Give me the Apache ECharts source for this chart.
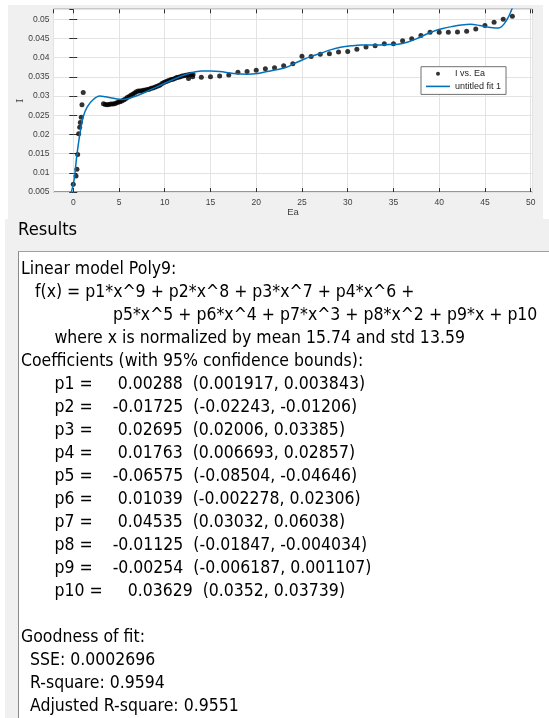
<!DOCTYPE html>
<html>
<head>
<meta charset="utf-8">
<script src="https://cdn.jsdelivr.net/npm/echarts@6/dist/echarts.min.js"></script>
<style>
  html, body { margin: 0; padding: 0; background: #fff; }
  #wrap { position: relative; width: 549px; height: 718px; overflow: hidden; }
  .panel { position: absolute; background: #f0f0f0; }
  #plotPanel { left: 8px; top: 5px; width: 535px; height: 214px; }
  #resultsPanel { left: 5px; top: 219px; width: 544px; height: 499px; }
  #resultsBox { position: absolute; left: 18px; top: 251px; width: 600px; height: 520px;
                background: #fff; border-left: 1px solid #8a8a8a; border-top: 1px solid #a0a0a0; }
  #main { position: absolute; left: 0; top: 0; width: 549px; height: 718px; }
</style>
</head>
<body>
<div id="wrap">
  <div class="panel" id="plotPanel"></div>
  <div class="panel" id="resultsPanel"></div>
  <div id="resultsBox"></div>
  <div id="main"></div>
</div>
<script>
// Measured points: current I against Ea
const eaValues = [
  0.0, 0.30, 0.40, 0.48, 0.59, 0.70, 0.77, 0.87, 0.95, 1.09,
  3.3, 3.5, 3.7, 3.9, 4.1, 4.3, 4.5, 4.7, 4.9, 5.1,
  5.3, 5.5, 5.7, 5.9, 6.1, 6.3, 6.5, 6.7, 6.9, 7.1,
  7.3, 7.5, 7.7, 7.9, 8.1, 8.3, 8.5, 8.7, 8.9, 9.1,
  9.3, 9.5, 9.7, 9.9, 10.1, 10.3, 10.5, 10.7, 10.9, 11.1,
  11.3, 11.5, 11.7, 11.9, 12.1, 12.3, 12.5, 12.7, 12.9,
  12.6, 13.05, 13.1,
  14, 15, 16, 17, 18, 19, 20, 21, 22, 23, 24, 25, 26, 27, 28, 29, 30,
  31, 32, 33, 34, 35, 36, 37, 38, 39, 40, 41, 42, 43, 44, 45, 46, 47, 48
];
const iValues = [
  0.0070, 0.0092, 0.0109, 0.0148, 0.0202, 0.0219, 0.0231, 0.0245, 0.0277, 0.0309,
  0.0280, 0.0278, 0.0277, 0.0278, 0.0279, 0.0279, 0.0280, 0.0282, 0.0284, 0.0285,
  0.0287, 0.0290, 0.0292, 0.0296, 0.0299, 0.0302, 0.0305, 0.0308, 0.0311, 0.0313,
  0.0313, 0.0314, 0.0315, 0.0316, 0.0317, 0.0318, 0.0320, 0.0321, 0.0323, 0.0325,
  0.0327, 0.0329, 0.0333, 0.0335, 0.0337, 0.0339, 0.0341, 0.0343, 0.0344, 0.0346,
  0.0348, 0.0349, 0.0350, 0.0352, 0.0353, 0.0354, 0.0355, 0.0356, 0.0357,
  0.0346, 0.0350, 0.0356,
  0.0349, 0.0350, 0.0352, 0.0355, 0.0362, 0.0364, 0.0367, 0.0371, 0.0374, 0.0379,
  0.0384, 0.0404, 0.0403, 0.0409, 0.0410, 0.0415, 0.0416,
  0.0422, 0.0428, 0.0431, 0.0436, 0.0436, 0.0444, 0.0449, 0.0458, 0.0466, 0.0466,
  0.0466, 0.0467, 0.0469, 0.0475, 0.0484, 0.0492, 0.0500, 0.0508
];

// Samples along the fitted Poly9 curve
const fitEa = [
  -0.35, 0.08, 0.37, 0.73, 1.09, 1.53, 2.19, 2.9, 3.5, 4.4,
  5.3, 6.2, 7.3, 8.4, 9.5, 10.6, 11.7, 12.8, 14.0, 15.0,
  16.0, 17.5, 19.0, 20.2, 21.2, 22.3, 23.3, 24.2, 25.2, 26.2,
  27.2, 28.2, 29.2, 30.4, 31.5, 33.0, 34.5, 35.5, 36.6, 37.5,
  38.4, 39.4, 40.4, 41.4, 42.4, 43.4, 44.4, 45.4, 46.2, 46.7,
  47.1, 47.5, 47.8, 48.05
];
const fitI = [
  0.0037, 0.0080, 0.0141, 0.0202, 0.0246, 0.0272, 0.0291, 0.0300, 0.0298, 0.0294,
  0.0291, 0.0295, 0.0304, 0.0316, 0.0328, 0.0340, 0.0351, 0.0360, 0.0365, 0.0365,
  0.0364, 0.0359, 0.0357, 0.0359, 0.0364, 0.0369, 0.0375, 0.0385, 0.0396, 0.0405,
  0.0413, 0.0421, 0.0427, 0.0431, 0.0433, 0.0433, 0.0434, 0.0435, 0.0441, 0.0449,
  0.0459, 0.0469, 0.0476, 0.0481, 0.0485, 0.0487, 0.0484, 0.0479, 0.0477, 0.0479,
  0.0488, 0.0503, 0.0518, 0.0533
];

const xLimits = [-2.16, 50.2];
const yLimits = [0.005, 0.0526];

// Fit report text
const modelLines = [
  'Linear model Poly9:',
  'f(x) = p1*x^9 + p2*x^8 + p3*x^7 + p4*x^6 +',
  'p5*x^5 + p6*x^4 + p7*x^3 + p8*x^2 + p9*x + p10',
  'where x is normalized by mean 15.74 and std 13.59',
  'Coefficients (with 95% confidence bounds):'
];
const coefNames = ['p1', 'p2', 'p3', 'p4', 'p5', 'p6', 'p7', 'p8', 'p9', 'p10'];
const coefValues = ['0.00288', '-0.01725', '0.02695', '0.01763', '-0.06575',
                    '0.01039', '0.04535', '-0.01125', '-0.00254', '0.03629'];
const coefBounds = ['(0.001917, 0.003843)', '(-0.02243, -0.01206)', '(0.02006, 0.03385)',
                    '(0.006693, 0.02857)', '(-0.08504, -0.04646)', '(-0.002278, 0.02306)',
                    '(0.03032, 0.06038)', '(-0.01847, -0.004034)', '(-0.006187, 0.001107)',
                    '(0.0352, 0.03739)'];
const gofTitle = 'Goodness of fit:';
const gofLines = ['SSE: 0.0002696', 'R-square: 0.9594', 'Adjusted R-square: 0.9551'];

const chart = echarts.init(document.getElementById('main'), null, { renderer: 'canvas' });

const axisFont = 'Liberation Sans';
const reportFont = '"DejaVu Sans"';
const reportSize = 17.3;
const squeeze = 0.91;

function reportText(str, x, y, size) {
  return {
    type: 'text', x: x, y: y, scaleX: squeeze, silent: true,
    style: {
      text: str, x: 0, y: 0,
      font: (size || reportSize) + 'px ' + reportFont,
      fill: '#000', align: 'left', verticalAlign: 'middle'
    }
  };
}

const lineStep = 23;
const firstLine = 270;
const texts = [];
texts.push(reportText('Results', 18, 230, 18));
const modelX = [21, 35, 113, 54.5, 21];
modelLines.forEach((s, k) => texts.push(reportText(s, modelX[k], firstLine + k * lineStep)));
coefNames.forEach((n, k) => {
  const gap = coefValues[k].charAt(0) === '-' ? '    ' : '     ';
  const s = n + ' =' + gap + coefValues[k] + '  ' + coefBounds[k];
  texts.push(reportText(s, 54.5, firstLine + (5 + k) * lineStep));
});
texts.push(reportText(gofTitle, 21, firstLine + 16 * lineStep));
gofLines.forEach((s, k) => texts.push(reportText(s, 30, firstLine + (17 + k) * lineStep)));

const tickLabelStyle = { fontFamily: axisFont, fontSize: 8.5, color: '#404040' };
const frameColor = '#303030';
const gridColor = '#e3e3e3';

function xAx(pos, main) {
  return {
    type: 'value', position: pos, min: xLimits[0], max: xLimits[1], splitNumber: 10,
    name: main ? 'Ea' : '', nameLocation: 'middle', nameGap: 15, nameMoveOverlap: false,
    nameTextStyle: { fontFamily: axisFont, fontSize: 9.5, color: '#404040' },
    axisLine: { show: false },
    axisTick: { show: true, inside: true, length: 4, lineStyle: { color: frameColor } },
    axisLabel: main ? Object.assign({ show: true, margin: 6, showMinLabel: false, showMaxLabel: false }, tickLabelStyle) : { show: false },
    splitLine: { show: main, lineStyle: { color: gridColor, width: 1 } }
  };
}
function yAx(pos, main) {
  return {
    type: 'value', position: pos, min: yLimits[0], max: yLimits[1], splitNumber: 10,
    name: main ? 'I' : '', nameLocation: 'middle', nameGap: 28, nameMoveOverlap: false,
    nameTextStyle: { fontFamily: 'DejaVu Serif', fontSize: 10, color: '#404040' },
    axisLine: { show: false },
    axisTick: { show: true, inside: true, length: 4, lineStyle: { color: frameColor } },
    axisLabel: main ? Object.assign({ show: true, margin: 4, showMaxLabel: false }, tickLabelStyle) : { show: false },
    splitLine: { show: main, lineStyle: { color: gridColor, width: 1 } }
  };
}

const option = {
  backgroundColor: 'transparent',
  animation: false,
  grid: {
    left: 53.5, right: 16.5, top: 9.3, bottom: 526,
    show: true, backgroundColor: '#fff', borderColor: frameColor, borderWidth: 1
  },
  xAxis: [xAx('bottom', true), xAx('top', false)],
  yAxis: [yAx('left', true), yAx('right', false)],
  legend: {
    data: [
      { name: 'I vs. Ea', icon: 'circle' },
      { name: 'untitled fit 1', icon: 'path://M0,0 L24,0 L24,1.6 L0,1.6 Z' }
    ],
    orient: 'vertical', left: 421, top: 66.7,
    itemWidth: 24, itemHeight: 4, itemGap: 2.7,
    padding: [2, 5, 3, 5],
    backgroundColor: '#fff', borderColor: '#707070', borderWidth: 1, borderRadius: 0,
    selectedMode: false,
    textStyle: { fontFamily: axisFont, fontSize: 9, lineHeight: 10, color: '#262626' }
  },
  graphic: { elements: texts },
  series: [
    {
      name: 'I vs. Ea', type: 'scatter',
      data: eaValues.map((x, k) => [x, iValues[k]]),
      symbol: 'circle', symbolSize: 5,
      itemStyle: { color: '#000' },
      silent: true, z: 2
    },
    {
      name: 'untitled fit 1', type: 'line',
      data: fitEa.map((x, k) => [x, fitI[k]]),
      smooth: 0.35, symbol: 'none', clip: true,
      itemStyle: { color: '#0072BD' },
      lineStyle: { color: '#0072BD', width: 1.5 },
      silent: true, z: 3
    }
  ]
};
chart.setOption(option);
</script>
</body>
</html>
